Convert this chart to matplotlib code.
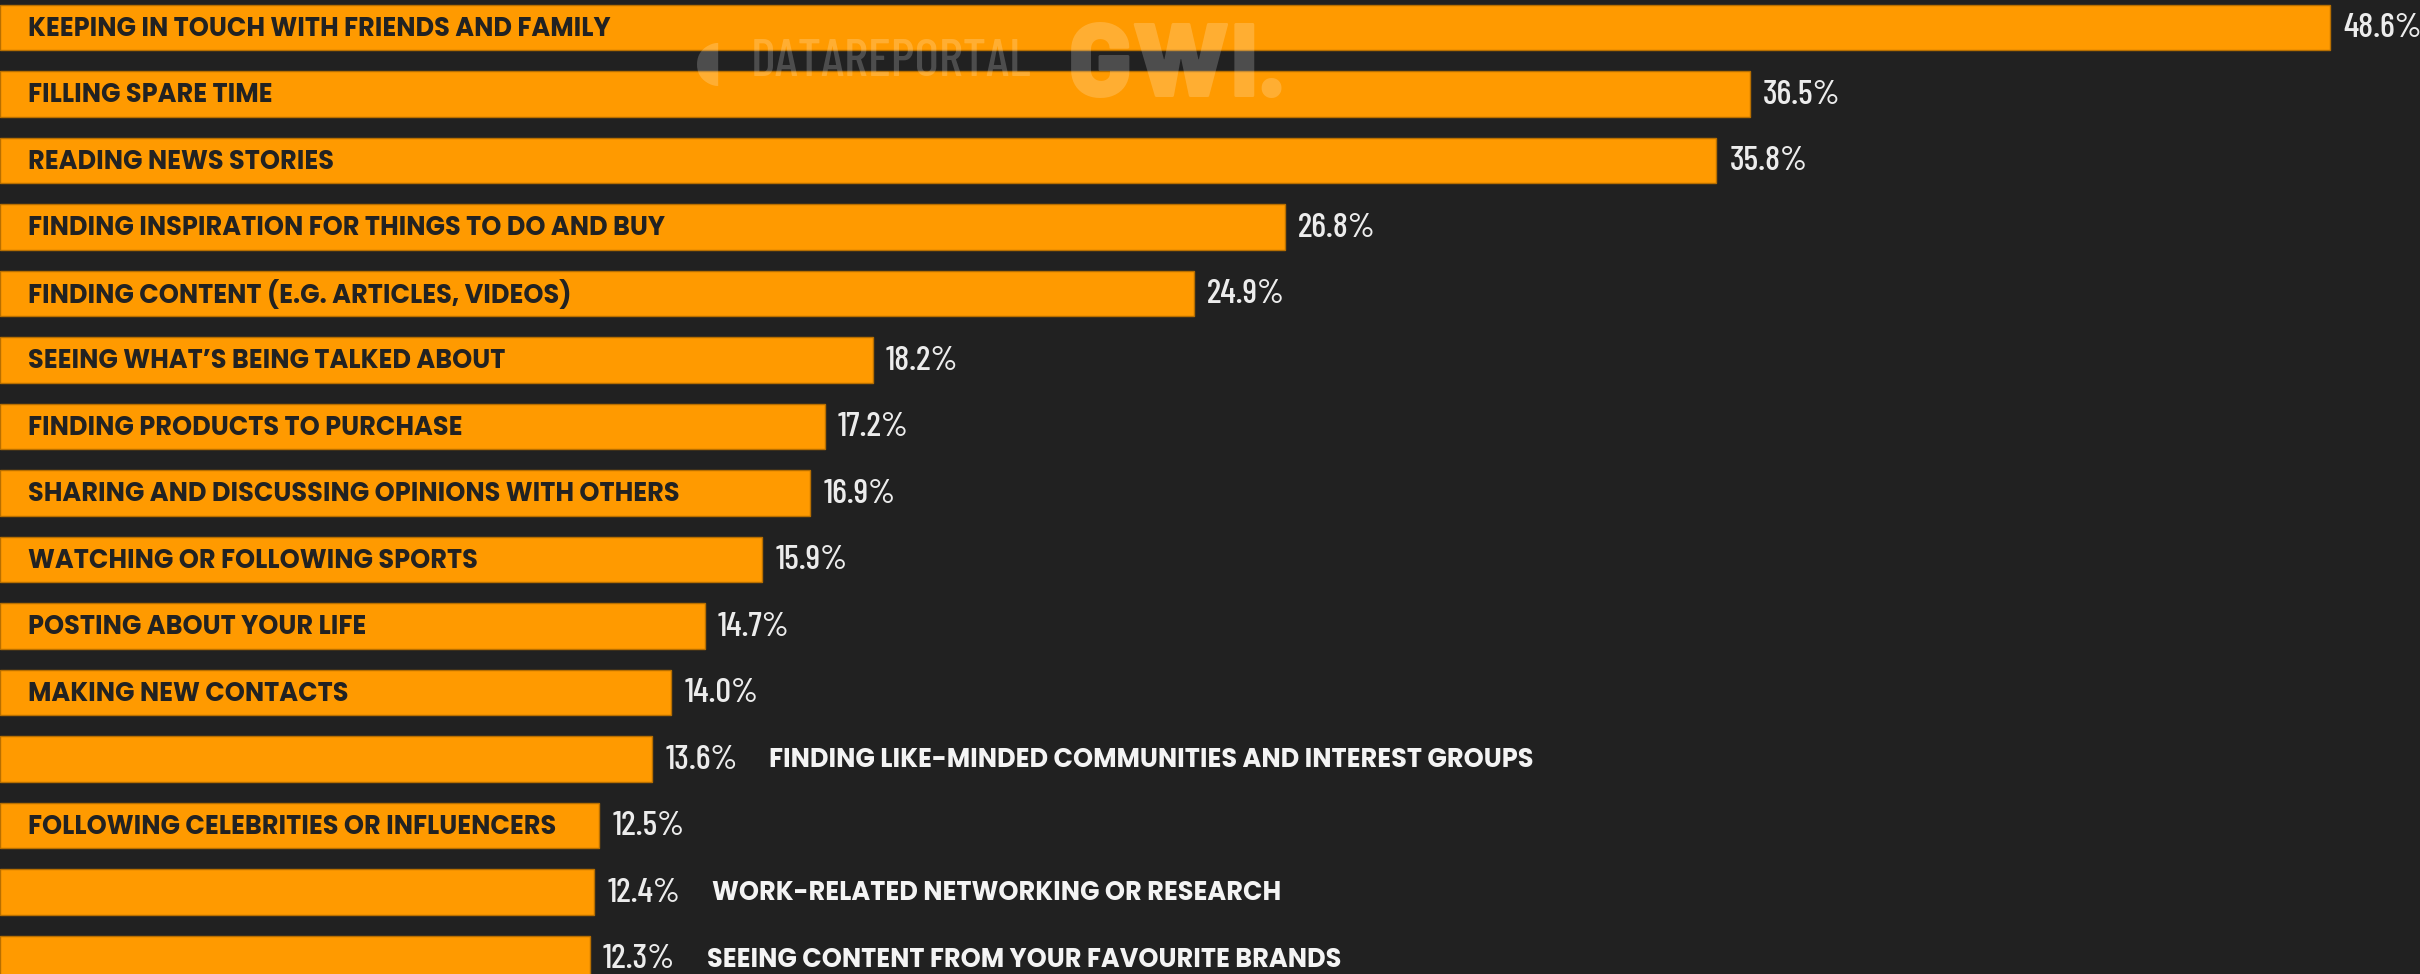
import numpy as np
import matplotlib
matplotlib.use("Agg")
import matplotlib.pyplot as plt

# reasons for using social media (share of internet users)
categories = [
    "KEEPING IN TOUCH WITH FRIENDS AND FAMILY",
    "FILLING SPARE TIME",
    "READING NEWS STORIES",
    "FINDING INSPIRATION FOR THINGS TO DO AND BUY",
    "FINDING CONTENT (E.G. ARTICLES, VIDEOS)",
    "SEEING WHAT\u2019S BEING TALKED ABOUT",
    "FINDING PRODUCTS TO PURCHASE",
    "SHARING AND DISCUSSING OPINIONS WITH OTHERS",
    "WATCHING OR FOLLOWING SPORTS",
    "POSTING ABOUT YOUR LIFE",
    "MAKING NEW CONTACTS",
    "FINDING LIKE-MINDED COMMUNITIES AND INTEREST GROUPS",
    "FOLLOWING CELEBRITIES OR INFLUENCERS",
    "WORK-RELATED NETWORKING OR RESEARCH",
    "SEEING CONTENT FROM YOUR FAVOURITE BRANDS",
]
values = [48.6, 36.5, 35.8, 26.8, 24.9, 18.2, 17.2, 16.9, 15.9, 14.7, 14.0, 13.6, 12.5, 12.4, 12.3]
# labels that don't fit inside their bar are written after the value
outside = [False] * 11 + [True, False, True, True]

bg = "#212121"
orange = "#ff9a00"
label_font = ["Poppins", "Lato", "DejaVu Sans"]
value_font = ["Barlow Condensed", "Roboto Condensed", "DejaVu Sans"]

fig = plt.figure(figsize=(24.2, 9.74), dpi=100, facecolor=bg)
ax = fig.add_axes([0, 0, 1, 1])
ax.set_facecolor(bg)

y = np.arange(len(values))
ax.barh(y, values, height=0.68, color=orange, edgecolor="#b86f00", linewidth=1.0, zorder=2)

ax.set_xlim(0, 2420 / 47.94)
ax.set_ylim(14.233, -0.4135)
ax.axis("off")

for i, (cat, v, out) in enumerate(zip(categories, values, outside)):
    ax.text(v + 0.28, i + 0.02, f"{v:.1f}%", color="#ececec", fontsize=25,
            family=value_font, fontweight="medium", va="center", ha="left", zorder=3)
    if out:
        ax.text(v + 2.45, i + 0.03, cat, color="#f4f4f4", fontsize=18.4,
                family=label_font, fontweight="bold", va="center", ha="left", zorder=3)
    else:
        ax.text(0.58, i + 0.03, cat, color="#222222", fontsize=18.4,
                family=label_font, fontweight="bold", va="center", ha="left", zorder=3)

# watermark
fig.text(694 / 2420, 1 - 64 / 974, "\u25d6", color="white", alpha=0.2,
         fontsize=40, family=["DejaVu Sans"], va="center", ha="left")
fig.text(751 / 2420, 1 - 62 / 974, "DATAREPORTAL", color="white", alpha=0.2,
         fontsize=38, family=value_font, fontweight="medium", va="center", ha="left")
fig.text(1068 / 2420, 1 - 70 / 974, "GWI.", color="white", alpha=0.2,
         fontsize=76, family=["Barlow", "DejaVu Sans"], fontweight="black", va="center", ha="left")

fig.savefig("out.png", dpi=100, facecolor=bg)
